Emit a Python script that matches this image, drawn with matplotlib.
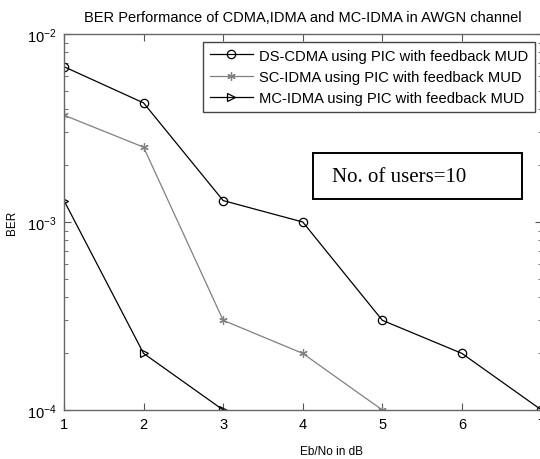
import matplotlib
matplotlib.use("Agg")
import matplotlib.pyplot as plt
from matplotlib.patches import Rectangle
from matplotlib.ticker import LogLocator, NullFormatter, FixedLocator

x_ds = [1, 2, 3, 4, 5, 6, 7]
ber_ds = [6.7e-3, 4.3e-3, 1.3e-3, 1.0e-3, 3.0e-4, 2.0e-4, 1.0e-4]
x_sc = [1, 2, 3, 4, 5]
ber_sc = [3.7e-3, 2.5e-3, 3.0e-4, 2.0e-4, 1.0e-4]
x_mc = [1, 2, 3]
ber_mc = [1.3e-3, 2.0e-4, 1.0e-4]
labels = ["DS-CDMA using PIC with feedback MUD",
          "SC-IDMA using PIC with feedback MUD",
          "MC-IDMA using PIC with feedback MUD"]
xticks = [1, 2, 3, 4, 5, 6, 7]

plt.rcParams['font.family'] = ['Liberation Sans', 'DejaVu Sans']
plt.rcParams['mathtext.fontset'] = 'custom'
plt.rcParams['mathtext.rm'] = 'Liberation Sans'
plt.rcParams['mathtext.it'] = 'Liberation Sans'
plt.rcParams['axes.unicode_minus'] = False
W, H = 540, 460
fig = plt.figure(figsize=(W/100, H/100), dpi=100)
l, r, t, b = 64, 541.5, 35, 411
ax = fig.add_axes([l/W, 1-b/H, (r-l)/W, (b-t)/H])

ast = (6, 2, 0)
ax.plot(x_ds, ber_ds, color='black', lw=0.9, marker='o', ms=6, mfc='none', mew=0.9, label=labels[0])
ax.plot(x_sc, ber_sc, color='#808080', lw=0.9, marker=ast, ms=6, mfc='none', mew=0.9, label=labels[1])
ax.plot(x_mc, ber_mc, color='black', lw=0.9, marker='>', ms=6, mfc='none', mew=0.9, label=labels[2])

ax.set_yscale('log')
ax.set_xlim(1, 7)
ax.set_ylim(1e-4, 1e-2)
ax.xaxis.set_major_locator(FixedLocator(xticks))
ax.yaxis.set_major_locator(LogLocator(base=10, numticks=10))
ax.yaxis.set_minor_locator(LogLocator(base=10, subs=range(2, 10), numticks=20))
ax.yaxis.set_minor_formatter(NullFormatter())
ax.tick_params(which='both', direction='in', top=True, right=True, color='#555555', labelsize=10.5)
ax.tick_params(which='major', length=5, pad=5)
ax.tick_params(which='minor', length=3)
for s in ax.spines.values():
    s.set_color('#666666')
    s.set_linewidth(1.0)

ax.set_title('BER Performance of CDMA,IDMA and MC-IDMA in AWGN channel', fontsize=10.5, pad=9)
ax.set_xlabel('Eb/No in dB', fontsize=8.5)
ax.xaxis.set_label_coords(331/W, 1-446/H, transform=fig.transFigure)
ax.set_ylabel('BER', fontsize=8.5)
ax.yaxis.set_label_coords(18/W, 1-223/H, transform=fig.transFigure)

leg = ax.legend(loc='upper right', bbox_to_anchor=(535/W, 1-43/H), bbox_transform=fig.transFigure,
                fontsize=10.6, frameon=True, fancybox=False, framealpha=1, edgecolor='#444444',
                handlelength=2.9, borderpad=0.45, labelspacing=0.5, handletextpad=0.45,
                borderaxespad=0)
leg.get_frame().set_linewidth(1.0)

bx0, bx1, by0, by1 = 313, 522, 154, 200
fig.patches.append(Rectangle((bx0/W, 1-by1/H), (bx1-bx0)/W, (by1-by0)/H,
                             transform=fig.transFigure, fc='white', ec='black', lw=1.4, zorder=5))
fig.text(332/W, 1-177/H, 'No. of users=10', fontsize=15, family=['Liberation Serif', 'DejaVu Serif'],
         ha='left', va='center', zorder=6)

fig.savefig('out.png', dpi=100)
